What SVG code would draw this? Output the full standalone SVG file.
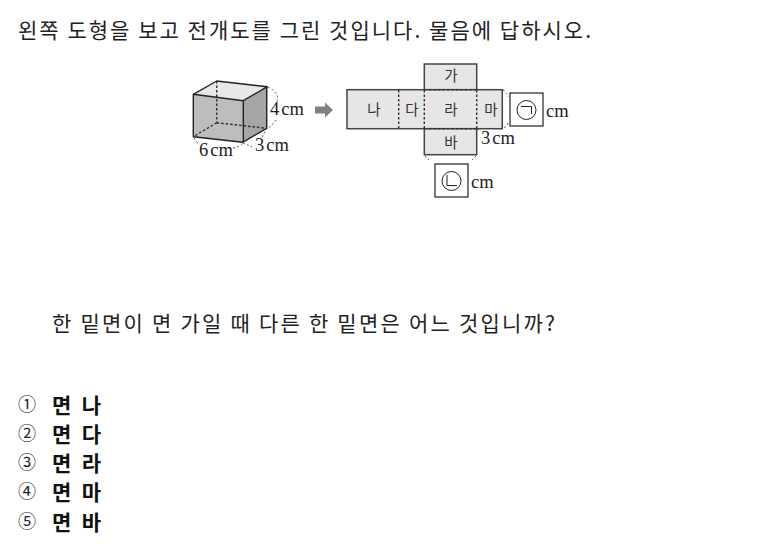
<svg xmlns="http://www.w3.org/2000/svg" width="763" height="553" viewBox="0 0 763 553">
<style>
.k{font-family:"Noto Sans CJK KR","Noto Sans",sans-serif;fill:#222;font-size:21px}
.b{font-weight:700;fill:#111}
.c{font-family:"Noto Sans CJK KR",sans-serif;font-size:18px;fill:#222}
.n{font-family:"Noto Sans CJK KR",sans-serif;font-size:14.500px;fill:#333;text-anchor:middle}
.m{font-family:"Liberation Serif",serif;font-size:18.500px;fill:#222}
.s{fill:none;stroke:#222;stroke-width:1.4;stroke-linejoin:round}
.d{fill:none;stroke:#333;stroke-width:1.400;stroke-dasharray:2.500 2}
.a{fill:none;stroke:#444;stroke-width:.9;stroke-dasharray:2 2.2}
.f{fill:#e6e6e6;stroke:#444;stroke-width:1.500}
.box{fill:#fff;stroke:#222;stroke-width:1.2}
.o{fill:none;stroke:#222;stroke-width:1}
</style>
<rect width="763" height="553" fill="#fff"/>
<text class="k" x="18" y="38" xml:space="preserve" textLength="573">왼쪽 도형을 보고 전개도를 그린 것입니다. 물음에 답하시오.</text>
<g id="cube">
<polygon points="193.3,94.3 243.3,100.7 267.3,86.7 216.7,81" fill="#e8e8e8"/>
<polygon points="193.3,94.3 243.3,100.7 242.7,142.3 193.3,136.7" fill="#bdbdbd"/>
<polygon points="243.3,100.7 267.3,86.7 266.7,128.3 242.7,142.3" fill="#a6a6a6"/>
<path class="d" d="M216.7,81V122.7M216.7,122.7L266.7,128.3M216.7,122.7L193.3,136.7"/>
<path class="s" d="M193.3,94.3L243.3,100.7L267.3,86.7L216.7,81ZM193.3,94.3V136.7L242.7,142.3L266.7,128.3V86.7M243.3,100.7V142.3"/>
<path class="a" d="M268,87Q280,93 277,102M276,120Q273,125 267,129M194,138L199,145M233,148Q239,147 243,143M243,143L252,147M262,137L266,130"/>
<text class="m" x="270" y="115">4<tspan dx="2">cm</tspan></text>
<text class="m" x="199" y="156">6<tspan dx="2">cm</tspan></text>
<text class="m" x="255" y="151">3<tspan dx="2">cm</tspan></text>
</g>
<polygon id="arrow" points="315,106.500 325,106.500 325,102.500 333,110 325,117.500 325,113.500 315,113.500" fill="#808080"/>
<g id="net">
<rect class="f" x="424.300" y="64" width="52.400" height="25.700"/>
<rect class="f" x="347" y="89.700" width="155.300" height="39"/>
<rect class="f" x="424.300" y="128.700" width="52.400" height="26"/>
<path class="d" d="M398.700,90V128M424.300,90V128M476.700,90V128M424.300,89.700H476.700M424.300,128.700H476.700"/>
<text class="n" x="451" y="81">가</text>
<text class="n" x="374" y="115">나</text>
<text class="n" x="412" y="115">다</text>
<text class="n" x="451" y="115">라</text>
<text class="n" x="491" y="115">마</text>
<text class="n" x="451" y="148">바</text>
<path class="a" d="M503,90Q507,92 508,97M508,123Q507,127 503,128M477,129L481,131M425,156L429,160M476,156L472,160"/>
<text class="m" x="481" y="144">3<tspan dx="2">cm</tspan></text>
</g>
<g id="blank-a">
<rect class="box" x="510" y="93" width="33" height="33"/>
<circle class="o" cx="526.500" cy="110" r="9.500"/>
<path class="o" d="M521,106.500H531.500V114"/>
<text class="m" x="546" y="117">cm</text>
</g>
<g id="blank-b">
<rect class="box" x="435" y="164" width="33" height="33"/>
<circle class="o" cx="451.500" cy="181" r="9.500"/>
<path class="o" d="M447,175V185.500H457"/>
<text class="m" x="471" y="188">cm</text>
</g>
<text class="k" x="52" y="331" xml:space="preserve" textLength="503">한 밑면이 면 가일 때 다른 한 밑면은 어느 것입니까?</text>
<g id="choices">
<text class="c" x="18" y="411">①</text><text class="k b" x="52" y="413" xml:space="preserve" textLength="49">면 나</text>
<text class="c" x="18" y="440">②</text><text class="k b" x="52" y="442" xml:space="preserve" textLength="49">면 다</text>
<text class="c" x="18" y="469">③</text><text class="k b" x="52" y="471" xml:space="preserve" textLength="49">면 라</text>
<text class="c" x="18" y="498">④</text><text class="k b" x="52" y="500" xml:space="preserve" textLength="49">면 마</text>
<text class="c" x="18" y="528">⑤</text><text class="k b" x="52" y="530" xml:space="preserve" textLength="49">면 바</text>
</g>
</svg>
